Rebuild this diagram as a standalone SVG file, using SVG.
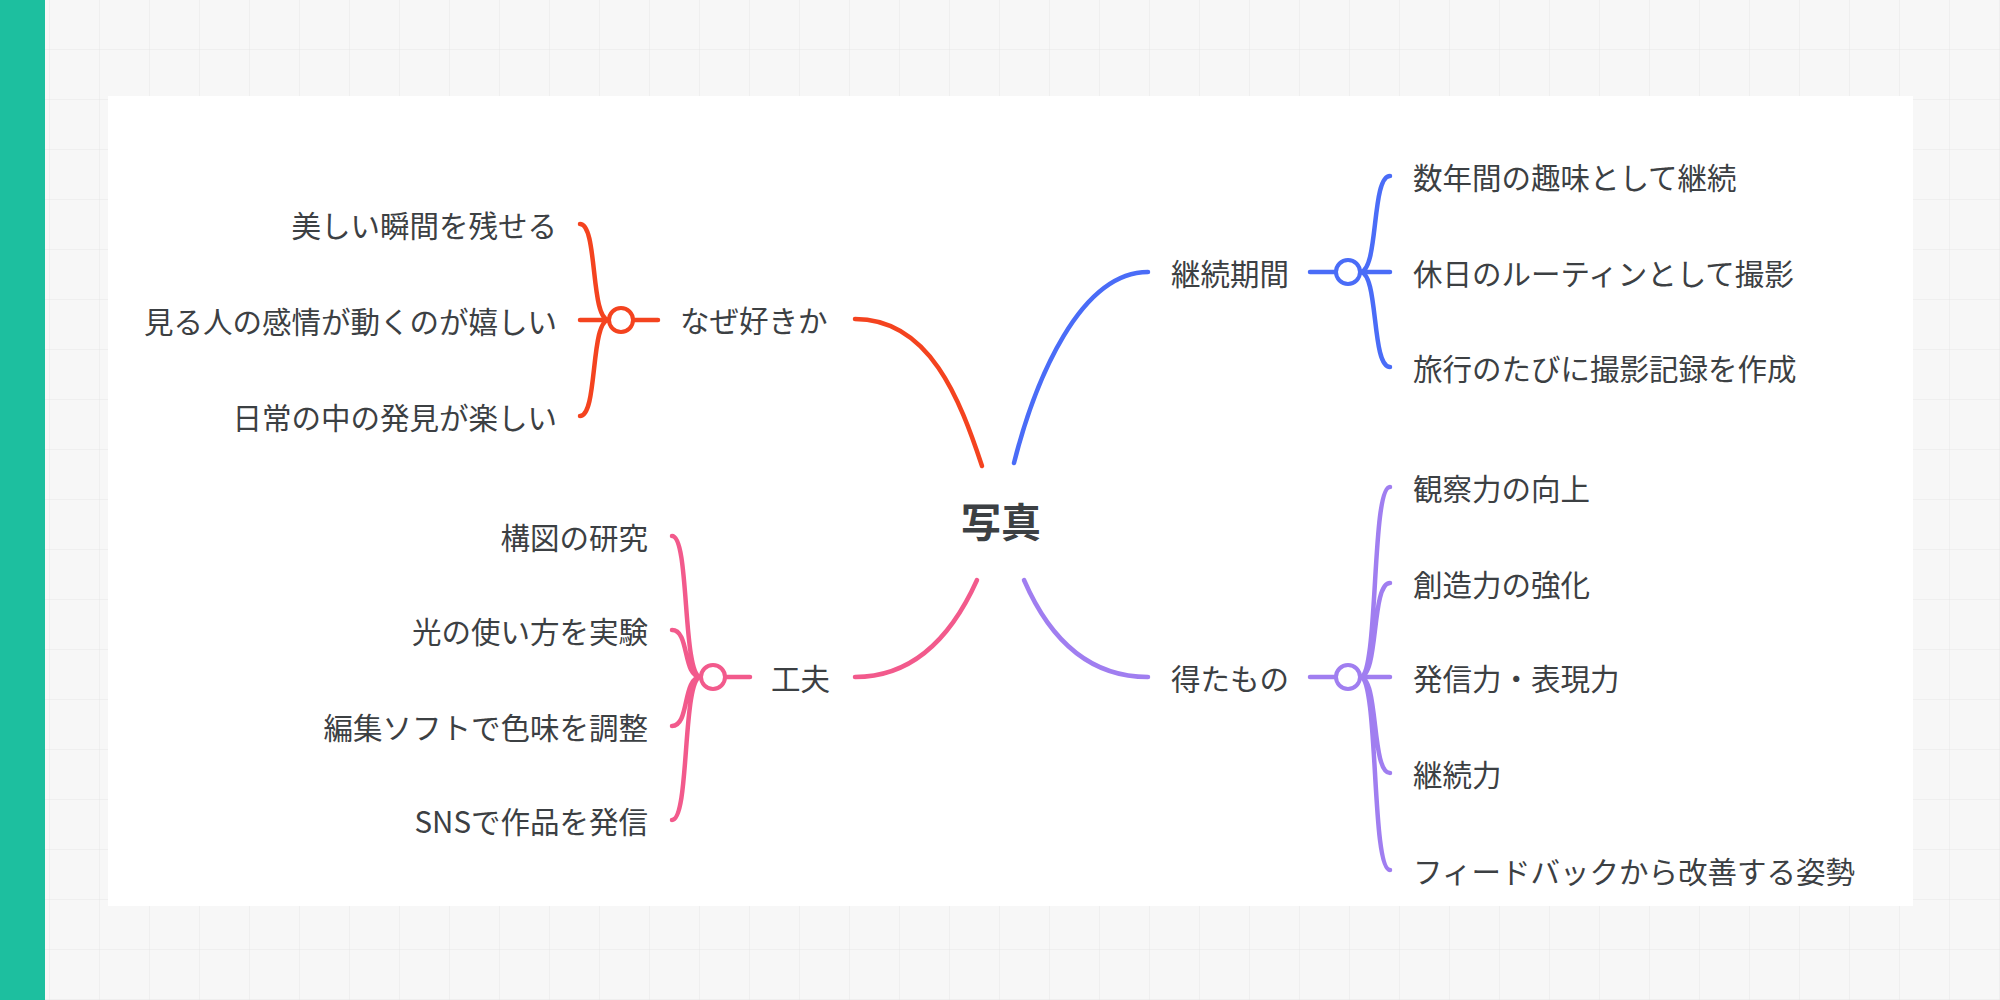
<svg xmlns="http://www.w3.org/2000/svg" width="2000" height="1000" viewBox="0 0 2000 1000">
<defs>
<pattern id="g" width="50" height="50" patternUnits="userSpaceOnUse"><path d="M50 0V50H0" fill="none" stroke="#e6e6e6" stroke-width="1"/></pattern>
<style>
text{font-family:"Noto Sans CJK JP","Noto Sans",sans-serif;font-size:29.5px;fill:#3c4043;dominant-baseline:central}
.c{fill:none;stroke-width:4.5;stroke-linecap:round}
.r{stroke:#f4431f}.b{stroke:#4a6cf7}.p{stroke:#a07ef0}.k{stroke:#f25a8c}
.h{fill:#fff;stroke-width:4}
.e{text-anchor:end}
</style>
</defs>
<rect width="2000" height="1000" fill="#f7f7f7"/>
<rect width="2000" height="1000" fill="url(#g)"/>
<rect x="108" y="96" width="1805" height="810" fill="#fff"/>
<rect width="45" height="1000" fill="#1dbf9f"/>
<g id="connectors">
<path class="c r" d="M982 466C960 400 930 319 855 319"/>
<path class="c b" d="M1014 463C1035 380 1080 272 1148 272"/>
<path class="c p" d="M1024 580C1050 640 1090 677 1148 677"/>
<path class="c k" d="M977 580C950 640 910 677 855 677"/>
<path class="c r" d="M633 320H658M609 320C590 320 598 224 580 224M609 320H580M609 320C590 320 598 416 580 416"/>
<path class="c b" d="M1310 272H1336M1360 272C1379 272 1371 176 1390 176M1360 272H1390M1360 272C1379 272 1371 367 1390 367"/>
<path class="c p" d="M1310 677H1336M1360 677C1379 677 1371 487 1390 487M1360 677C1379 677 1371 583 1390 583M1360 677H1390M1360 677C1379 677 1371 773 1390 773M1360 677C1379 677 1371 870 1390 870"/>
<path class="c k" d="M725 677H750M701 677C682 677 690 536 672 536M701 677C682 677 690 630 672 630M701 677C682 677 690 726 672 726M701 677C682 677 690 820 672 820"/>
</g>
<g id="center"><text x="1001" y="520" text-anchor="middle" style="font-size:40px;font-weight:bold">写真</text></g>
<g id="why"><text x="680" y="319">なぜ好きか</text><circle class="h r" cx="621" cy="320" r="12"/>
<text class="e" x="557" y="224">美しい瞬間を残せる</text><text class="e" x="557" y="320">見る人の感情が動くのが嬉しい</text><text class="e" x="557" y="416">日常の中の発見が楽しい</text></g>
<g id="period"><text x="1171" y="272">継続期間</text><circle class="h b" cx="1348" cy="272" r="12"/>
<text x="1413" y="176">数年間の趣味として継続</text><text x="1413" y="272">休日のルーティンとして撮影</text><text x="1413" y="367">旅行のたびに撮影記録を作成</text></g>
<g id="gain"><text x="1171" y="677">得たもの</text><circle class="h p" cx="1348" cy="677" r="12"/>
<text x="1413" y="487">観察力の向上</text><text x="1413" y="583">創造力の強化</text><text x="1413" y="677">発信力・表現力</text><text x="1413" y="773">継続力</text><text x="1413" y="870">フィードバックから改善する姿勢</text></g>
<g id="ideas"><text class="e" x="830" y="677">工夫</text><circle class="h k" cx="713" cy="677" r="12"/>
<text class="e" x="648" y="536">構図の研究</text><text class="e" x="648" y="630">光の使い方を実験</text><text class="e" x="648" y="726">編集ソフトで色味を調整</text><text class="e" x="648" y="820">SNSで作品を発信</text></g>
</svg>
